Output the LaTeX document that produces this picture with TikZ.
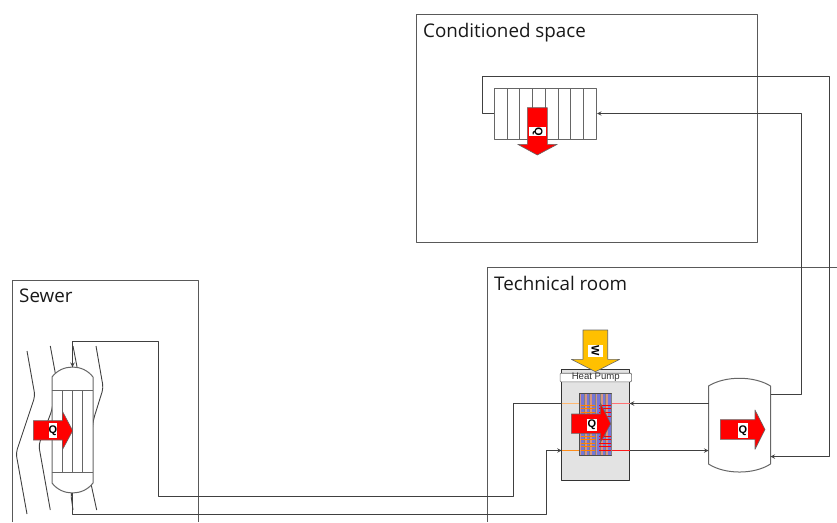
\documentclass[tikz,border=0pt]{standalone}
\usepackage{fontspec}
\setmainfont{Open Sans}
\newfontfamily\qfont{Liberation Sans}
\definecolor{heatred}{RGB}{255,0,0}
\definecolor{workyellow}{RGB}{255,192,0}
\definecolor{casegray}{RGB}{227,227,227}
\definecolor{coilblue}{RGB}{118,118,214}
\definecolor{coilorange}{RGB}{214,150,130}
\begin{document}
\begin{tikzpicture}[x=1pt,y=-1pt,line join=round,>=stealth]
	\tikzset{room/.style={draw=black!65,line width=1pt},
		room label/.style={font=\fontsize{18.8}{22}\selectfont,text=black!90,inner sep=0pt,anchor=base west},
		unit/.style={draw=black!60,line width=1pt,inner sep=0pt},
		pipe/.style={draw=black!75,line width=1pt},
		flow/.style={draw=black!75,line width=.9pt,rounded corners=4pt},
		bigarrow/.style={draw=black!60,line width=.6pt,fill=heatred},
		tag/.style={fill=white,inner sep=0pt,font=\qfont\bfseries\fontsize{11}{12}\selectfont,text=black}}
	\useasboundingbox (0,0) rectangle (837,522);
	% rooms
	\node[room,inner sep=0pt,minimum width=341pt,minimum height=228pt] (conditioned) at (587,128.5) {};
	\draw[room] (837,267.5)--(487.5,267.5)--(487.5,522);
	\draw[room] (12.5,522)--(12.5,280.5)--(198.5,280.5)--(198.5,522);
	\node[room label] (conditionedlabel) at (423,37) {Conditioned space};
	\node[room label] (technicallabel) at (494,290) {Technical room};
	\node[room label] (sewerlabel) at (19,302) {Sewer};
	% sewer stream
	\draw[flow] (27,351)--(35,396)--(16,453)--(27,514);
	\draw[flow] (50.3,346)--(56,377)--(52,410)--(38.7,445)--(50.3,510);
	\draw[flow] (73,346)--(78,372)--(78,480)--(70.7,493)--(73,510);
	\draw[flow] (96,346)--(103.3,388)--(93.3,420)--(88,470)--(96.7,510);
	% sewer exchanger
	\node[fill=white,inner sep=0pt,minimum width=41pt,minimum height=106pt] (sewerhx) at (72.5,430) {};
	\fill[white] (52,377) .. controls (62,363.7) and (83,363.7) .. (93,377)--cycle;
	\fill[white] (52,483) .. controls (62,496.3) and (83,496.3) .. (93,483)--cycle;
	\draw[unit] (52,377) .. controls (62,363.7) and (83,363.7) .. (93,377)--(93,483) .. controls (83,496.3) and (62,496.3) .. (52,483)--cycle;
	\draw[unit] (sewerhx.west |- 0,390.5)--(sewerhx.east |- 0,390.5);
	\draw[unit] (sewerhx.west |- 0,472.5)--(sewerhx.east |- 0,472.5);
	\foreach \x in {62.5,72.5,82.5}
	\draw[unit] (\x,390.5)--(\x,472.5);
	\coordinate (sewertop) at (72.5,367);
	\coordinate (sewerbottom) at (72.5,493);
	% radiator
	\node[unit,fill=white,minimum width=102pt,minimum height=51pt] (radiator) at (545.5,113.5) {};
	\foreach \x in {507.5,519.5,532.5,545.5,558.5,570.5,583.5}
	\draw[unit] (\x,88)--(\x,139);
	% tank
	\node[inner sep=0pt,minimum width=62.4pt,minimum height=78pt] (tank) at (739.5,425) {};
	\draw[unit] (708.5,386) .. controls (725,375.7) and (754,375.7) .. (770.5,386)--(770.5,464) .. controls (754,474.7) and (725,474.7) .. (708.5,464)--cycle;
	% heat pump
	\node[unit,draw=black!80,fill=casegray,minimum width=68pt,minimum height=111pt] (heatpump) at (595.5,424.5) {};
	\node[draw=black!60,line width=.6pt,fill=white,rounded corners=1pt,inner sep=0pt,minimum width=71.5pt,minimum height=7.6pt,font=\qfont\fontsize{9.6}{9}\selectfont,text=black!80] (heatpumplabel) at (595.8,377.5) {Heat Pump};
	\node[draw=black!70,line width=.9pt,fill=coilblue,inner sep=0pt,minimum width=31.7pt,minimum height=62pt] (coil) at (595.2,424.7) {};
	\foreach \x in {579.8,585.1,590.4,595.7,601,606.3}
	{\fill[coilorange] (\x,394.2) rectangle (\x+1.6,455.2);
	\draw[black!50,line width=.6pt] (\x+4.6,394.2)--(\x+4.6,455.2);}
	\foreach \y in {405,408.5,412,416,436,439.5,443,446.5,450}
	{\draw[orange,line width=.4pt] (581,\y)--(595,\y);
	\draw[red,line width=.4pt] (599,\y)--(610.5,\y);}
	% pipes
	\coordinate (hpeastup) at (629.7,403.5);
	\coordinate (hpeastdown) at (629.7,450.5);
	\coordinate (hpwestup) at (561.7,403.5);
	\coordinate (hpwestdown) at (561.7,450.5);
	\coordinate (tankwestup) at (708.5,403.5);
	\coordinate (tankwestdown) at (708.5,450.5);
	\coordinate (tankeastup) at (770.5,394.5);
	\coordinate (tankeastdown) at (770.5,456.5);
	\draw[pipe] (sewertop)--(72.5,341.5)--(158.5,341.5)--(158.5,496.5)--(513.5,496.5)--(513.5,403.5)--(hpwestup);
	\draw[pipe,->] (72.5,350)--(sewertop);
	\draw[pipe,->] (sewerbottom)--(72.5,514.5)--(546.5,514.5)--(546.5,450.5)--(hpwestdown);
	\draw[pipe,->] (tankwestup)--(hpeastup);
	\draw[pipe,->] (hpeastdown)--(tankwestdown);
	\draw[pipe,->] (tankeastup)--(801.5,394.5)--(801.5,113.5)--(radiator.east);
	\draw[pipe,->] (radiator.west)--(482.5,113.5)--(482.5,76.5)--(829.5,76.5)--(829.5,456.5)--(tankeastdown);
	\draw[line width=1pt,orange!55] (hpwestup)--(coil.west |- hpwestup);
	\draw[line width=1pt,red!55] (coil.east |- hpeastup)--(hpeastup);
	\draw[line width=1pt,orange!90] (hpwestdown)--(coil.west |- hpwestdown);
	\draw[line width=1pt,red!90] (coil.east |- hpeastdown)--(hpeastdown);
	% arrows
	\draw[bigarrow] (527.3,107.7)--(547.3,107.7)--(547.3,144.3)--(557.3,144.3)--(537.3,155)--(517.7,144.3)--(527.3,144.3)--cycle;
	\node[tag,minimum width=17pt,minimum height=9.5pt] (qradiator) at (537.5,131.5) {\rotatebox{-90}{Q}};
	\draw[bigarrow] (33.3,420.7)--(62.3,420.7)--(62.3,411)--(72.7,430.7)--(62.3,450)--(62.3,440)--(33.3,440)--cycle;
	\node[tag,minimum width=8.6pt,minimum height=15pt] (qsewer) at (53,430.5) {Q};
	\draw[bigarrow] (571.3,414)--(600.3,414)--(600.3,403)--(610.7,423.7)--(600.3,442.7)--(600.3,433.3)--(571.3,433.3)--cycle;
	\node[tag,minimum width=10.3pt,minimum height=12pt] (qheatpump) at (591.8,425) {Q};
	\draw[bigarrow] (720.3,419.7)--(755,419.7)--(755,410)--(765,429.5)--(755,449.3)--(755,439.3)--(720.3,439.3)--cycle;
	\node[tag,minimum width=9.7pt,minimum height=15.3pt] (qtank) at (742.8,430.3) {Q};
	\draw[draw=black!60,line width=.6pt,fill=workyellow] (583,330)--(607.7,330)--(607.7,359.3)--(619.7,359.3)--(595.4,371.7)--(571.3,359.3)--(583,359.3)--cycle;
	\node[tag,minimum width=15.3pt,minimum height=12.3pt] (wpower) at (595.4,351) {\rotatebox{-90}{W}};
\end{tikzpicture}
\end{document}
